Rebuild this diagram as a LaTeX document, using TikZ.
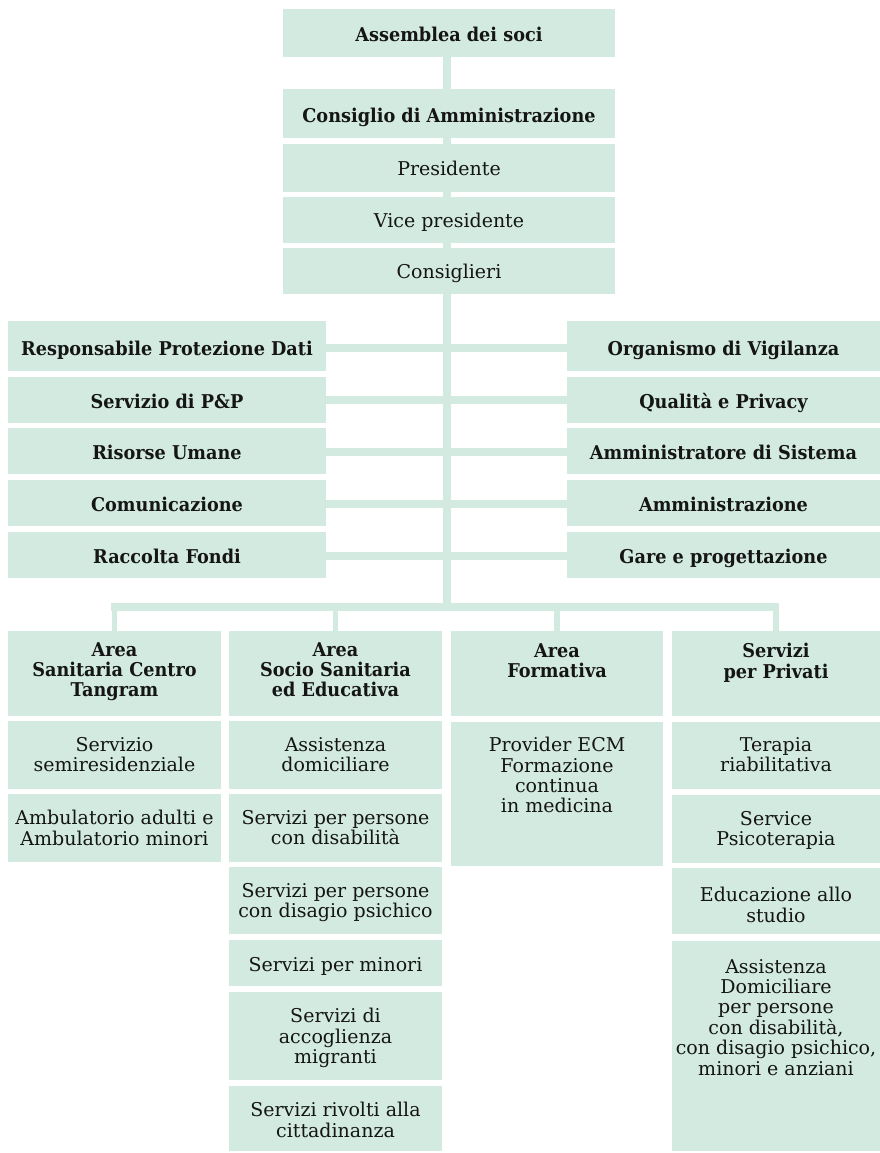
\documentclass[tikz,border=0pt]{standalone}
\usepackage{fontspec}
\setmainfont[BoldFeatures={FakeStretch=0.93}]{DejaVu Serif}
\usetikzlibrary{backgrounds}
\definecolor{mint}{HTML}{D2EAE0}
\definecolor{ink}{HTML}{151515}
\newcommand\mkbox[5]{\node[box, minimum width={(#4-#2)*1pt}, minimum height={(#5-#3)*1pt}] (#1) at ({(#2+#4)/2},{(#3+#5)/2}) {};}
\begin{document}
\begin{tikzpicture}[x=1pt,y=-1pt,
  box/.style={fill=mint, draw=none, inner sep=0pt, outer sep=0pt, rectangle},
  txt/.style={inner sep=0pt, align=center, text=ink, font=\fontsize{19}{20.4}\selectfont},
  btxt/.style={inner sep=0pt, align=center, text=ink, font=\fontsize{19}{20.4}\selectfont\bfseries},
  conn/.style={draw=mint, line width=8pt},
  drop/.style={draw=mint, line width=5.5pt},
]
\useasboundingbox (0,0) rectangle (880,1153);
% top stack
\mkbox{asm}{283}{9}{615}{57}
\mkbox{cda}{283}{89}{615}{138}
\mkbox{pres}{283}{144}{615}{192}
\mkbox{vice}{283}{197}{615}{243}
\mkbox{cons}{283}{248}{615}{294}
\node[btxt, anchor=base] (tasm) at ([yshift=-9pt]asm.center) {Assemblea dei soci};
\node[btxt, anchor=base] (tcda) at ([yshift=-9pt]cda.center) {Consiglio di Amministrazione};
\node[txt, anchor=base] (tpres) at ([yshift=-7pt]pres.center) {Presidente};
\node[txt, anchor=base] (tvice) at ([yshift=-7pt]vice.center) {Vice presidente};
\node[txt, anchor=base] (tcons) at ([yshift=-7pt]cons.center) {Consiglieri};
% staff left
\mkbox{rpd}{8}{321}{326}{371}
\mkbox{pp}{8}{377}{326}{423}
\mkbox{ru}{8}{428}{326}{474}
\mkbox{com}{8}{480}{326}{526}
\mkbox{rf}{8}{532}{326}{578}
\node[btxt, anchor=base] (trpd) at ([yshift=-9pt]rpd.center) {Responsabile Protezione Dati};
\node[btxt, anchor=base] (tpp) at ([yshift=-8pt]pp.center) {Servizio di P\&P};
\node[btxt, anchor=base] (tru) at ([yshift=-8pt]ru.center) {Risorse Umane};
\node[btxt, anchor=base] (tcom) at ([yshift=-8pt]com.center) {Comunicazione};
\node[btxt, anchor=base] (trf) at ([yshift=-8pt]rf.center) {Raccolta Fondi};
% staff right
\mkbox{odv}{567}{321}{880}{371}
\mkbox{qp}{567}{377}{880}{423}
\mkbox{ads}{567}{428}{880}{474}
\mkbox{amm}{567}{480}{880}{526}
\mkbox{gp}{567}{532}{880}{578}
\node[btxt, anchor=base] (todv) at ([yshift=-9pt]odv.center) {Organismo di Vigilanza};
\node[btxt, anchor=base] (tqp) at ([yshift=-8pt]qp.center) {Qualità e Privacy};
\node[btxt, anchor=base] (tads) at ([yshift=-8pt]ads.center) {Amministratore di Sistema};
\node[btxt, anchor=base] (tamm) at ([yshift=-8pt]amm.center) {Amministrazione};
\node[btxt, anchor=base] (tgp) at ([yshift=-8pt]gp.center) {Gare e progettazione};
% column headers
\mkbox{h1}{8}{631}{221}{716}
\mkbox{h2}{229}{631}{442}{716}
\mkbox{h3}{451}{631}{663}{716}
\mkbox{h4}{672}{631}{880}{716}
\node[btxt, anchor=north] (th1) at ([yshift=-11pt]h1.north) {Area\\Sanitaria Centro\\Tangram};
\node[btxt, anchor=north] (th2) at ([yshift=-11pt]h2.north) {Area\\Socio Sanitaria\\ed Educativa};
\node[btxt, anchor=north] (th3) at ([yshift=-12pt]h3.north) {Area\\Formativa};
\node[btxt, anchor=north] (th4) at ([yshift=-12pt]h4.north) {Servizi\\per Privati};
% column 1
\mkbox{a1}{8}{721}{221}{789}
\mkbox{a2}{8}{794}{221}{862}
\node[txt, anchor=north] (ta1) at ([yshift=-16pt]a1.north) {Servizio\\semiresidenziale};
\node[txt, anchor=north] (ta2) at ([yshift=-16pt]a2.north) {Ambulatorio adulti e\\Ambulatorio minori};
% column 2
\mkbox{b1}{229}{721}{442}{789}
\mkbox{b2}{229}{794}{442}{862}
\mkbox{b3}{229}{867}{442}{934}
\mkbox{b4}{229}{940}{442}{986}
\mkbox{b5}{229}{992}{442}{1080}
\mkbox{b6}{229}{1086}{442}{1151}
\node[txt, anchor=north] (tb1) at ([yshift=-16pt]b1.north) {Assistenza\\domiciliare};
\node[txt, anchor=north] (tb2) at ([yshift=-16pt]b2.north) {Servizi per persone\\con disabilità};
\node[txt, anchor=north] (tb3) at ([yshift=-16pt]b3.north) {Servizi per persone\\con disagio psichico};
\node[txt, anchor=base] (tb4) at ([yshift=-8pt]b4.center) {Servizi per minori};
\node[txt, anchor=north] (tb5) at ([yshift=-16pt]b5.north) {Servizi di\\accoglienza\\migranti};
\node[txt, anchor=north] (tb6) at ([yshift=-16pt]b6.north) {Servizi rivolti alla\\cittadinanza};
% column 3
\mkbox{c1}{451}{722}{663}{866}
\node[txt, anchor=north] (tc1) at ([yshift=-15pt]c1.north) {Provider ECM\\Formazione\\continua\\in medicina};
% column 4
\mkbox{d1}{672}{722}{880}{789}
\mkbox{d2}{672}{795}{880}{863}
\mkbox{d3}{672}{868}{880}{934}
\mkbox{d4}{672}{941}{880}{1151}
\node[txt, anchor=north] (td1) at ([yshift=-15pt]d1.north) {Terapia\\riabilitativa};
\node[txt, anchor=north] (td2) at ([yshift=-16pt]d2.north) {Service\\Psicoterapia};
\node[txt, anchor=north] (td3) at ([yshift=-19pt]d3.north) {Educazione allo\\studio};
\node[txt, anchor=north] (td4) at ([yshift=-18pt]d4.north) {Assistenza\\Domiciliare\\per persone\\con disabilità,\\con disagio psichico,\\minori e anziani};
% connectors
\coordinate (j) at (447,607);
\coordinate (barL) at (111,607);
\coordinate (barR) at (779,607);
\begin{scope}[on background layer]
\draw[conn] (asm.south -| j) -- (j);
\draw[conn] ([yshift=-2pt]rpd.east) -- ([yshift=-2pt]odv.west);
\draw[conn] (pp.east) -- (qp.west);
\draw[conn] ([yshift=-1pt]ru.east) -- ([yshift=-1pt]ads.west);
\draw[conn] ([yshift=-1pt]com.east) -- ([yshift=-1pt]amm.west);
\draw[conn] ([yshift=-1pt]rf.east) -- ([yshift=-1pt]gp.west);
\draw[conn] (barL) -- (barR);
\draw[drop] (h1.north) -- (h1.north |- barL);
\draw[drop] (h2.north) -- (h2.north |- barL);
\draw[drop] (h3.north) -- (h3.north |- barL);
\draw[drop] (h4.north) -- (h4.north |- barR);
\end{scope}
\end{tikzpicture}
\end{document}
